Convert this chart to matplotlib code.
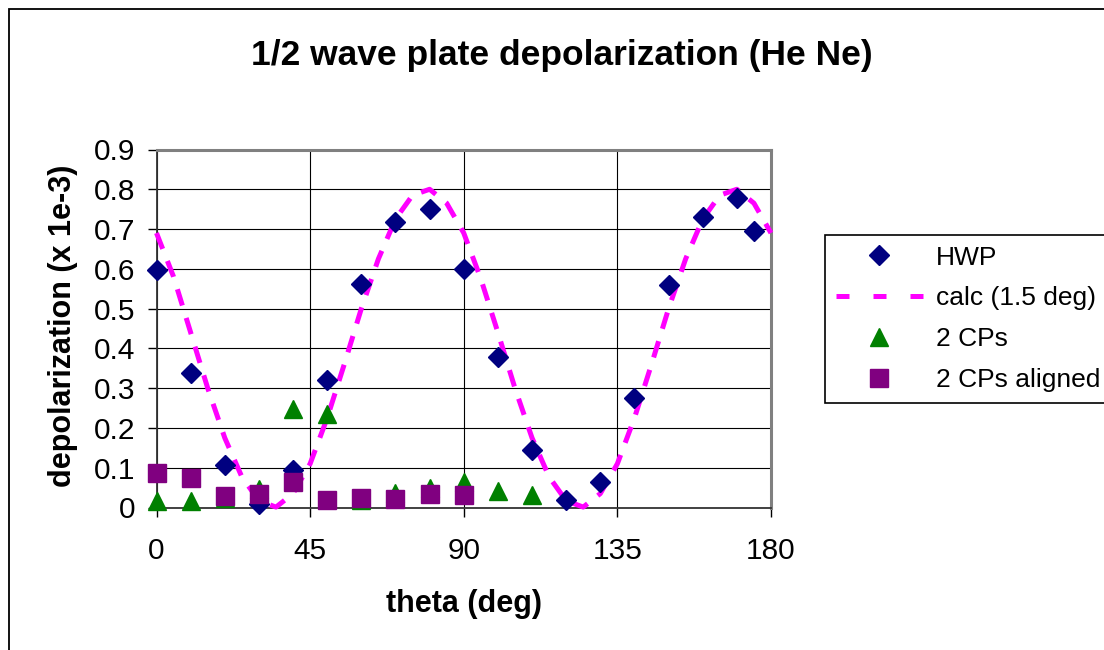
import matplotlib
matplotlib.use("Agg")
import matplotlib.pyplot as plt
from matplotlib.patches import Rectangle

plt.rcParams['font.family'] = ['Liberation Sans', 'DejaVu Sans']

# HWP measurements
theta_hwp = [0, 10, 20, 30, 40, 50, 60, 70, 80, 90, 100, 110, 120, 130, 140, 150, 160, 170, 175]
hwp = [0.597, 0.337, 0.107, 0.008, 0.094, 0.320, 0.562, 0.718, 0.750, 0.600, 0.378, 0.145,
       0.019, 0.063, 0.275, 0.559, 0.731, 0.777, 0.696]

# calculated curve (1.5 deg)
theta_calc = [0, 5, 10, 15, 20, 25, 30, 35, 40, 45, 50, 55, 60, 65, 70, 75, 80, 85, 90,
              95, 100, 105, 110, 115, 120, 125, 130, 135, 140, 145, 150, 155, 160, 165, 170, 175, 180]
calc = [0.69, 0.58, 0.44, 0.30, 0.175, 0.077, 0.017, 0.001, 0.035, 0.11, 0.225, 0.36, 0.50,
        0.625, 0.725, 0.785, 0.80, 0.765, 0.69, 0.575, 0.44, 0.30, 0.175, 0.077, 0.017, 0.001,
        0.035, 0.11, 0.225, 0.36, 0.50, 0.625, 0.725, 0.785, 0.80, 0.765, 0.69]

# two crossed polarizers
theta_cp = [0, 10, 20, 30, 40, 50, 60, 70, 80, 90, 100, 110]
cp = [0.016, 0.016, 0.024, 0.046, 0.247, 0.235, 0.020, 0.036, 0.050, 0.064, 0.041, 0.032]

# two polarizers aligned
theta_al = [0, 10, 20, 30, 40, 50, 60, 70, 80, 90]
aligned = [0.0875, 0.073, 0.029, 0.033, 0.063, 0.019, 0.023, 0.021, 0.033, 0.031]

x_ticks = [0, 45, 90, 135, 180]
y_ticks = [0, 0.1, 0.2, 0.3, 0.4, 0.5, 0.6, 0.7, 0.8, 0.9]
y_tick_labels = ['0', '0.1', '0.2', '0.3', '0.4', '0.5', '0.6', '0.7', '0.8', '0.9']

W, H = 1104, 650
fig = plt.figure(figsize=(W / 100, H / 100), dpi=100)
fig.patch.set_facecolor('white')

# outer chart frame (right/bottom run off the picture)
fig.patches.append(Rectangle((8.5 / W, -0.2), 1.5, 1.2 - 9 / H, transform=fig.transFigure,
                             fill=False, edgecolor='black', linewidth=1.3))

left, right, top, bottom = 156.5, 771, 149.5, 507.5
ax = fig.add_axes([left / W, 1 - bottom / H, (right - left) / W, (bottom - top) / H])

ax.set_xlim(0, 180)
ax.set_ylim(0, 0.9)
ax.set_xticks(x_ticks)
ax.set_yticks(y_ticks)
ax.set_yticklabels(y_tick_labels)
ax.tick_params(axis='both', direction='out', length=6.5, width=1, colors='black', labelsize=21.5)
ax.tick_params(axis='x', pad=15)
ax.tick_params(axis='y', pad=9)

ax.grid(True, color='black', linewidth=0.8)
ax.set_axisbelow(True)
for s in ['left', 'bottom']:
    ax.spines[s].set_color('#333333')
    ax.spines[s].set_linewidth(1.3)
for s in ['top', 'right']:
    ax.spines[s].set_color('#808080')
    ax.spines[s].set_linewidth(2.2)

ax.plot(theta_calc, calc, color='#FF00FF', linewidth=3.6, dashes=(3.4, 2.6),
        label='calc (1.5 deg)', zorder=3, clip_on=False)
ax.plot(theta_hwp, hwp, linestyle='none', marker='D', markersize=10, color='#000080',
        label='HWP', zorder=4, clip_on=False)
ax.plot(theta_cp, cp, linestyle='none', marker='^', markersize=13, color='#008000',
        label='2 CPs', zorder=5, clip_on=False)
ax.plot(theta_al, aligned, linestyle='none', marker='s', markersize=13, color='#800080',
        label='2 CPs aligned', zorder=6, clip_on=False)

handles, labels = ax.get_legend_handles_labels()
order = [1, 0, 2, 3]
leg = fig.legend([handles[i] for i in order], [labels[i] for i in order],
                 loc='upper left', bbox_to_anchor=(825 / W, 1 - 235 / H),
                 fontsize=19, frameon=True, fancybox=False, framealpha=1,
                 edgecolor='black', borderpad=0.4, borderaxespad=0,
                 handlelength=3.3, handletextpad=0.52, labelspacing=0.64, numpoints=1)
leg.get_frame().set_linewidth(1.2)
leg.get_lines()[1].set_dashes((2.6, 4.8))

fig.text(562 / W, 1 - 55 / H, '1/2 wave plate depolarization (He Ne)', ha='center', va='center',
         fontsize=25.5, fontweight='bold')
fig.text(464 / W, 1 - 604 / H, 'theta (deg)', ha='center', va='center',
         fontsize=22, fontweight='bold')
fig.text(63 / W, 1 - 326 / H, 'depolarization (x 1e-3)', ha='center', va='center',
         rotation=90, fontsize=22, fontweight='bold')

fig.savefig('out.png', dpi=100)
